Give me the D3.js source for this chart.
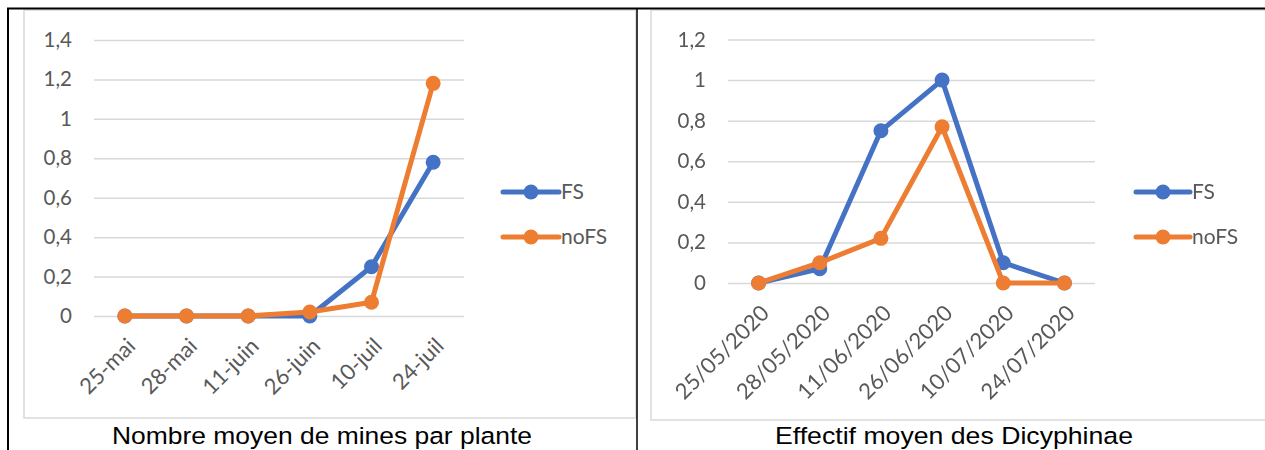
<!DOCTYPE html>
<html>
<head>
<meta charset="utf-8">
<script src="https://cdn.jsdelivr.net/npm/d3@7"></script>
<style>
  html, body { margin: 0; padding: 0; background: #fff; }
  svg { display: block; }
</style>
</head>
<body>
<svg id="fig" width="1265" height="450"></svg>
<script>
// Left chart: mean number of mines per plant
const minesDates = ["25-mai", "28-mai", "11-juin", "26-juin", "10-juil", "24-juil"];
const minesFS = [0, 0, 0, 0, 0.25, 0.78];
const minesNoFS = [0, 0, 0, 0.02, 0.07, 1.18];
const minesTicks = [0, 0.2, 0.4, 0.6, 0.8, 1, 1.2, 1.4];

// Right chart: mean Dicyphinae count
const dicyDates = ["25/05/2020", "28/05/2020", "11/06/2020", "26/06/2020", "10/07/2020", "24/07/2020"];
const dicyFS = [0, 0.07, 0.75, 1, 0.1, 0];
const dicyNoFS = [0, 0.1, 0.22, 0.77, 0, 0];
const dicyTicks = [0, 0.2, 0.4, 0.6, 0.8, 1, 1.2];

const seriesNames = ["FS", "noFS"];
const seriesColors = ["#4472C4", "#ED7D31"];

const fr = d3.formatLocale({ decimal: ",", thousands: " ", grouping: [3], currency: ["", " €"] });
const fmt = fr.format("~g");

const svg = d3.select("#fig");
svg.append("rect").attr("width", 1265).attr("height", 450).attr("fill", "#fff");

const defs = svg.append("defs");
defs.append("filter").attr("id", "soft")
  .attr("x", "-5%").attr("y", "-5%").attr("width", "110%").attr("height", "110%")
  .append("feGaussianBlur").attr("stdDeviation", 0.6);

const labelFont = "Lato, 'Liberation Sans', sans-serif";

function drawChart(opts) {
  const g = svg.append("g");
  if (opts.soft) g.attr("filter", "url(#soft)");

  // chart frame
  g.append("rect")
    .attr("x", opts.box[0]).attr("y", opts.box[1])
    .attr("width", opts.box[2]).attr("height", opts.box[3])
    .attr("fill", "#fff").attr("stroke", "#d9d9d9").attr("stroke-width", 1.5);

  const x = d3.scalePoint().domain(opts.cats).range(opts.xRange).padding(0.5);
  const y = d3.scaleLinear().domain(opts.yDomain).range(opts.yRange);
  const plotW = opts.xRange[1] - opts.xRange[0];

  // value axis with gridlines
  const ya = g.append("g")
    .attr("transform", `translate(${opts.xRange[0]},0)`)
    .call(d3.axisLeft(y).tickValues(opts.ticks).tickFormat(fmt)
      .tickSizeInner(-plotW).tickSizeOuter(0).tickPadding(22));
  ya.select(".domain").remove();
  ya.selectAll(".tick line").attr("stroke", "#d9d9d9").attr("stroke-width", 1.5);
  ya.selectAll(".tick text")
    .attr("fill", "#595959").attr("font-family", labelFont)
    .attr("font-size", 20.5);

  // category axis, rotated labels
  const xa = g.append("g")
    .attr("transform", `translate(0,${opts.yRange[0]})`)
    .call(d3.axisBottom(x).tickSize(0).tickPadding(0));
  xa.select(".domain").remove();
  xa.selectAll(".tick text")
    .attr("fill", "#595959").attr("font-family", labelFont)
    .attr("font-size", 22)
    .attr("text-anchor", "end")
    .attr("dy", "0.35em")
    .attr("transform", `translate(6,26) rotate(-45)`);

  // series lines and markers
  const line = d3.line().x((d, i) => x(opts.cats[i])).y(d => y(d));
  opts.series.forEach((vals, s) => {
    g.append("path").datum(vals)
      .attr("d", line).attr("fill", "none")
      .attr("stroke", seriesColors[s]).attr("stroke-width", 5)
      .attr("stroke-linejoin", "round").attr("stroke-linecap", "round");
    g.append("g").selectAll("circle").data(vals).join("circle")
      .attr("cx", (d, i) => x(opts.cats[i])).attr("cy", d => y(d))
      .attr("r", 7.5).attr("fill", seriesColors[s]);
  });

  // legend
  const lg = g.append("g");
  seriesNames.forEach((name, s) => {
    const ly = opts.legendY[s];
    lg.append("line")
      .attr("x1", opts.legendX[0]).attr("x2", opts.legendX[1])
      .attr("y1", ly).attr("y2", ly)
      .attr("stroke", seriesColors[s]).attr("stroke-width", 5).attr("stroke-linecap", "round");
    lg.append("circle")
      .attr("cx", (opts.legendX[0] + opts.legendX[1]) / 2).attr("cy", ly)
      .attr("r", 7.5).attr("fill", seriesColors[s]);
    lg.append("text")
      .attr("x", opts.legendX[1] + 2).attr("y", ly).attr("dy", "0.35em")
      .attr("fill", "#595959").attr("font-family", labelFont)
      .attr("font-size", 21).text(name);
  });

  // caption below the chart
  svg.append("text")
    .attr("x", opts.titleX).attr("y", 444)
    .attr("text-anchor", "middle")
    .attr("font-family", "'Liberation Sans', Arial, sans-serif")
    .attr("font-size", 24.5).attr("fill", "#000")
    .attr("textLength", opts.titleW).attr("lengthAdjust", "spacingAndGlyphs")
    .text(opts.title);
}

drawChart({
  box: [24, 10, 612, 408],
  cats: minesDates,
  xRange: [94, 464],
  yDomain: [0, 1.4], yRange: [316, 40],
  ticks: minesTicks,
  series: [minesFS, minesNoFS],
  legendX: [503, 559], legendY: [192, 237],
  title: "Nombre moyen de mines par plante", titleX: 322, titleW: 420,
  soft: false
});

drawChart({
  box: [651, 10, 620, 410],
  cats: dicyDates,
  xRange: [728, 1095],
  yDomain: [0, 1.2], yRange: [283, 39.5],
  ticks: dicyTicks,
  series: [dicyFS, dicyNoFS],
  legendX: [1136, 1190], legendY: [192, 237],
  title: "Effectif moyen des Dicyphinae", titleX: 954, titleW: 358,
  soft: true
});

// table rules around the two cells
const rules = svg.append("g").attr("stroke", "#000");
rules.append("line").attr("x1", 7).attr("x2", 1265).attr("y1", 8.5).attr("y2", 8.5).attr("stroke-width", 2);
rules.append("line").attr("x1", 8).attr("x2", 8).attr("y1", 8).attr("y2", 450).attr("stroke-width", 2);
rules.append("line").attr("x1", 637).attr("x2", 637).attr("y1", 8).attr("y2", 450).attr("stroke-width", 1.5);
</script>
</body>
</html>
